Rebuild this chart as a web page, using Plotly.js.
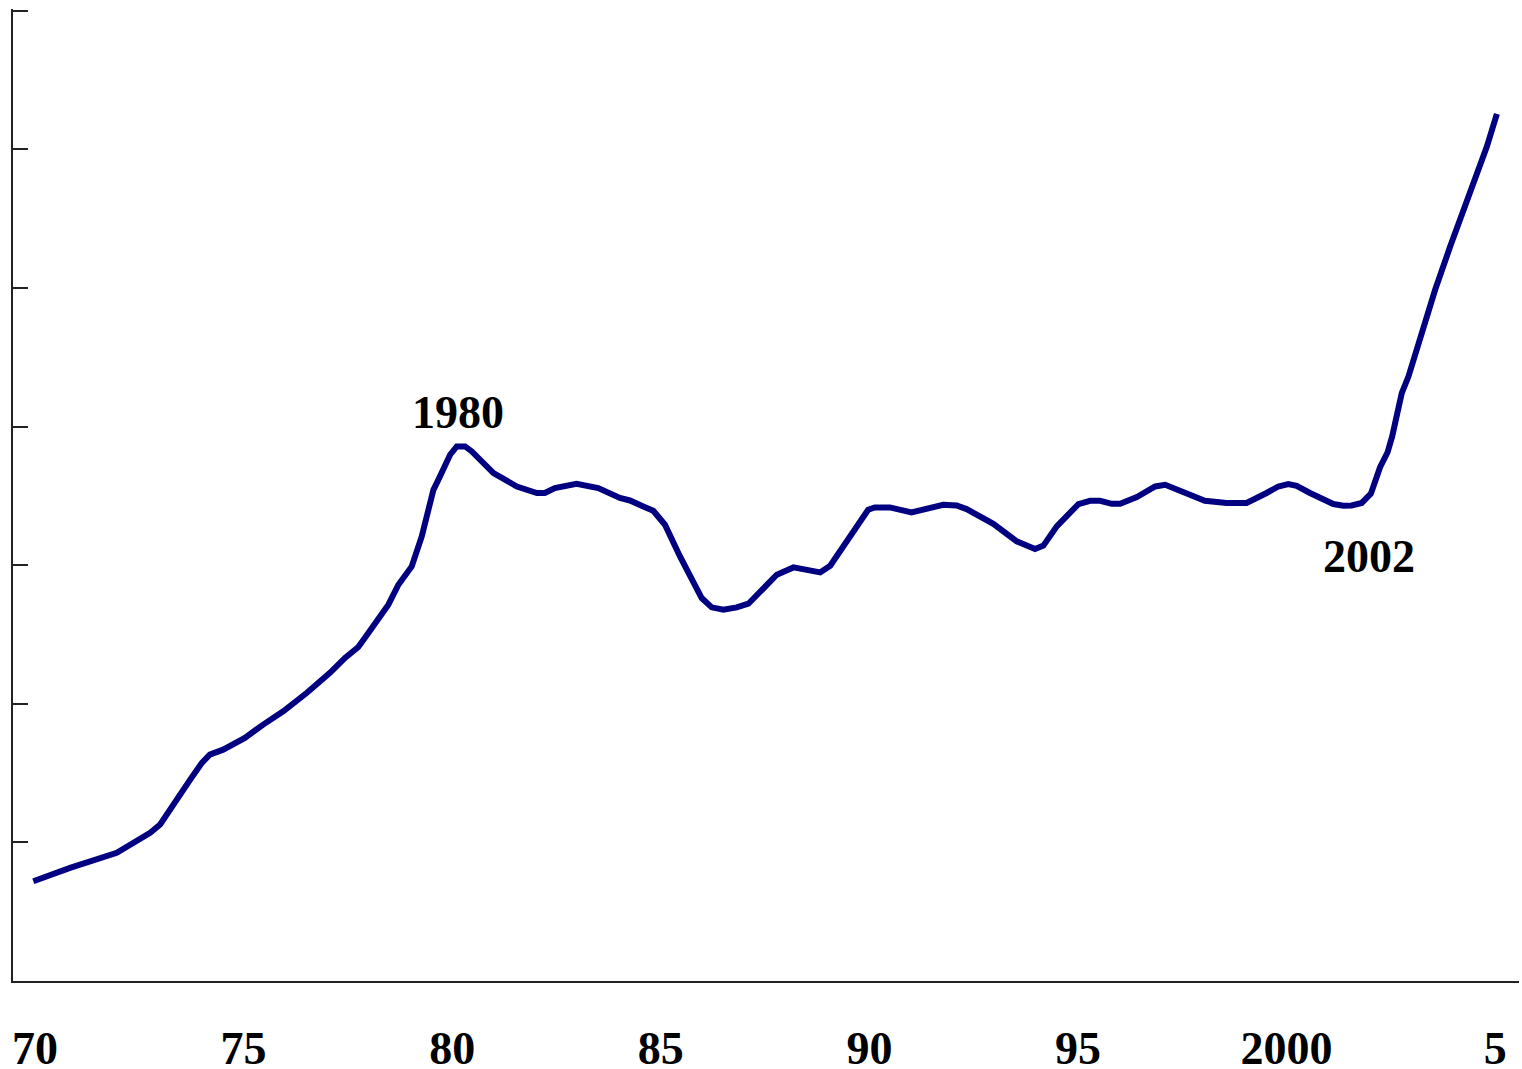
<!DOCTYPE html>
<html>
<head>
<meta charset="utf-8">
<script src="https://cdn.plot.ly/plotly-3.0.1.min.js"></script>
<style>
html,body{margin:0;padding:0;background:#fff;}
#chart{width:1522px;height:1069px;}
</style>
</head>
<body>
<div id="chart"></div>
<script>
// Series: decimal years and index values (y axis unlabeled, one unit per tick)
const years = [
 1969.96,1970.84,1971.96,1972.76,1973.00,1973.48,1973.72,1974.00,1974.19,1974.51,
 1975.03,1975.47,1975.95,1976.51,1977.07,1977.43,1977.75,1977.99,1978.23,1978.47,
 1978.71,1979.03,1979.27,1979.55,1979.67,1979.95,1980.11,1980.31,1980.47,1980.99,
 1981.55,1982.03,1982.22,1982.46,1982.98,1983.50,1984.02,1984.26,1984.58,1984.82,
 1985.10,1985.46,1985.98,1986.22,1986.50,1986.82,1987.10,1987.78,1988.18,1988.82,
 1989.06,1989.49,1989.97,1990.13,1990.49,1991.01,1991.77,1992.09,1992.33,1992.97,
 1993.53,1993.97,1994.17,1994.49,1995.01,1995.29,1995.53,1995.81,1996.01,1996.41,
 1996.85,1997.09,1997.40,1997.61,1998.04,1998.56,1999.04,1999.52,1999.80,2000.04,
 2000.24,2000.56,2000.84,2001.12,2001.36,2001.56,2001.80,2002.02,2002.24,2002.42,
 2002.53,2002.76,2002.92,2003.20,2003.56,2003.92,2004.28,2004.56,2004.80,2005.04
];
const values = [
 0.720,0.816,0.925,1.069,1.129,1.357,1.453,1.574,1.633,1.669,
 1.754,1.850,1.946,2.078,2.223,2.331,2.410,2.511,2.619,2.715,
 2.859,2.991,3.208,3.544,3.617,3.797,3.857,3.857,3.821,3.665,
 3.568,3.521,3.521,3.557,3.588,3.557,3.485,3.467,3.424,3.393,
 3.292,3.063,2.763,2.696,2.679,2.696,2.722,2.931,2.984,2.948,
 2.996,3.196,3.400,3.417,3.417,3.381,3.436,3.431,3.405,3.299,
 3.172,3.117,3.141,3.280,3.441,3.465,3.465,3.443,3.443,3.492,
 3.568,3.580,3.544,3.521,3.465,3.449,3.449,3.521,3.568,3.586,
 3.573,3.521,3.485,3.441,3.429,3.431,3.449,3.516,3.707,3.815,
 3.929,4.242,4.361,4.650,4.987,5.299,5.600,5.828,6.020,6.256
];
const tickYears = [1970,1975,1980,1985,1990,1995,2000,2005];
const tickLabels = ['70','75','80','85','90','95','2000','5'];
const yTicks = [0,1,2,3,4,5,6,7];
const notes = [
  {text:'1980', year:1980.15, value:4.10},
  {text:'2002', year:2001.98, value:3.06}
];

const serif = 'Liberation Serif, Times New Roman, serif';

const trace = {
  x: years, y: values, type: 'scatter', mode: 'lines',
  line: {color: '#000080', width: 6},
  hoverinfo: 'skip'
};

const layout = {
  width: 1522, height: 1069,
  margin: {l: 13, r: 3, t: 9, b: 88, pad: 0},
  paper_bgcolor: '#ffffff', plot_bgcolor: '#ffffff',
  showlegend: false,
  xaxis: {
    range: [1969.473, 2005.57],
    showgrid: false, zeroline: false,
    showline: true, linecolor: '#222', linewidth: 2,
    ticks: '',
    tickmode: 'array', tickvals: tickYears, ticktext: tickLabels,
    tickfont: {family: serif, size: 46, color: '#000', weight: 700},
    ticklabelstandoff: 26
  },
  yaxis: {
    range: [0, 7.013],
    showgrid: false, zeroline: false,
    showline: true, linecolor: '#222', linewidth: 2,
    ticks: 'inside', ticklen: 15, tickwidth: 2, tickcolor: '#222',
    tickmode: 'array', tickvals: yTicks,
    showticklabels: false
  },
  annotations: notes.map(n => ({
    x: n.year, y: n.value, xref: 'x', yref: 'y',
    text: n.text, showarrow: false,
    xanchor: 'center', yanchor: 'middle',
    font: {family: serif, size: 46, color: '#000', weight: 700}
  }))
};

Plotly.newPlot('chart', [trace], layout, {displayModeBar: false, staticPlot: true});
</script>
</body>
</html>
